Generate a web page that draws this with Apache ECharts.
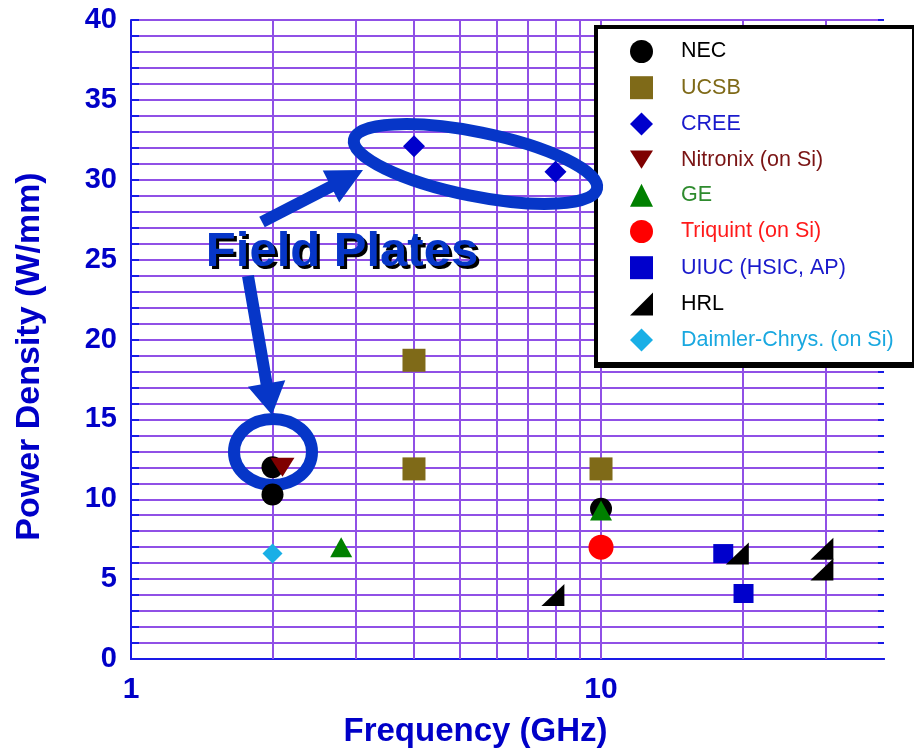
<!DOCTYPE html>
<html><head><meta charset="utf-8">
<script src="https://cdn.jsdelivr.net/npm/echarts@6/dist/echarts.min.js"></script>
<style>html,body{margin:0;padding:0;background:#fff}#c{width:914px;height:753px}</style>
</head><body><div id="c"></div>
<script>
// ---- data ----
const seriesNames = ['NEC', 'UCSB', 'CREE', 'Nitronix (on Si)', 'GE', 'Triquint (on Si)', 'UIUC (HSIC, AP)', 'HRL', 'Daimler-Chrys. (on Si)'];
const necFreq = [2, 2, 10];            const necPower = [12.0, 10.3, 9.4];
const ucsbFreq = [4, 4, 10];           const ucsbPower = [18.7, 11.9, 11.9];
const creeFreq = [4, 8];               const creePower = [32.1, 30.5];
const nitronixFreq = [2.1];            const nitronixPower = [12.0];
const geFreq = [2.8, 10];              const gePower = [7.0, 9.3];
const triquintFreq = [10];             const triquintPower = [7.0];
const uiucFreq = [18.2, 20.1];         const uiucPower = [6.6, 4.1];
const hrlFreq = [7.9, 19.5, 29.5, 29.5]; const hrlPower = [4.0, 6.6, 6.9, 5.6];
const daimlerFreq = [2];               const daimlerPower = [6.6];
const xTickLabels = [1, 10];
const gridFreqs = [2, 3, 4, 5, 6, 7, 8, 9, 10, 20, 30];

// ---- styles ----
const FONT = '"Liberation Sans", Arial, sans-serif';
const AXIS_BLUE = '#1a1ae6';
const LABEL_BLUE = '#0000c8';
const GRID = '#9050e6';
const ANN = '#0636c8';
const markerColors = ['#000000', '#7f6a18', '#0000cc', '#7f0000', '#008000', '#ff0000', '#0000cc', '#000000', '#19afe6'];
const legendTextColors = ['#000000', '#7f6a18', '#1a1acc', '#7a1414', '#2e8b2e', '#ff1a1a', '#1a1acc', '#000000', '#19a8e0'];
const symbols = ['circle', 'rect', 'diamond', 'path://M0,0 L10,0 L5,8 Z', 'triangle', 'circle', 'rect', 'path://M1,0 L1,1 L0,1 Z', 'diamond'];
const symbolSizes = [22, 23, 22, [24, 19], [22, 20], 25, [20, 19], [23, 22], 20];

const freqs = [necFreq, ucsbFreq, creeFreq, nitronixFreq, geFreq, triquintFreq, uiucFreq, hrlFreq, daimlerFreq];
const powers = [necPower, ucsbPower, creePower, nitronixPower, gePower, triquintPower, uiucPower, hrlPower, daimlerPower];

const chart = echarts.init(document.getElementById('c'), null, {renderer: 'canvas'});

function arrowPoints(tail, tip, shaftW, headLen, headW) {
  const dx = tip[0] - tail[0], dy = tip[1] - tail[1];
  const L = Math.hypot(dx, dy), ux = dx / L, uy = dy / L, nx = -uy, ny = ux;
  const bx = tip[0] - ux * headLen, by = tip[1] - uy * headLen;
  return [
    [tail[0] + nx * shaftW / 2, tail[1] + ny * shaftW / 2],
    [bx + nx * shaftW / 2, by + ny * shaftW / 2],
    [bx + nx * headW / 2, by + ny * headW / 2],
    tip,
    [bx - nx * headW / 2, by - ny * headW / 2],
    [bx - nx * shaftW / 2, by - ny * shaftW / 2],
    [tail[0] - nx * shaftW / 2, tail[1] - ny * shaftW / 2]
  ];
}

const series = seriesNames.map((name, i) => ({
  name: name,
  type: 'scatter',
  z: 2,
  symbol: symbols[i],
  symbolSize: symbolSizes[i],
  itemStyle: {color: markerColors[i], opacity: 1},
  emphasis: {disabled: true},
  data: freqs[i].map((f, k) => [f, powers[i][k]])
}));

series.unshift({
  name: '_grid',
  type: 'scatter',
  data: [],
  silent: true,
  markLine: {
    silent: true,
    z: 1,
    symbol: ['none', 'none'],
    label: {show: false},
    emphasis: {disabled: true},
    lineStyle: {color: GRID, width: 2, type: 'solid'},
    data: gridFreqs.map(f => ({xAxis: f}))
  }
});

const FP_FONT = 'bold 49px "Liberation Sans", Arial, sans-serif';

const option = {
  animation: false,
  backgroundColor: '#ffffff',
  grid: {left: 131, right: 30, top: 20, bottom: 90, containLabel: false},
  xAxis: [{
    type: 'log', logBase: 10, min: 1, max: 40, position: 'bottom',
    axisLine: {show: true, lineStyle: {color: AXIS_BLUE, width: 2}},
    axisTick: {show: false},
    splitLine: {show: false},
    axisLabel: {
      fontSize: 30, fontWeight: 'bold', color: LABEL_BLUE, fontFamily: FONT, margin: 16,
      formatter: v => xTickLabels.includes(Math.round(v)) && Math.abs(v - Math.round(v)) < 1e-6 ? String(Math.round(v)) : ''
    },
    name: 'Frequency (GHz)', nameLocation: 'middle', nameGap: 56,
    nameTextStyle: {fontSize: 33, fontWeight: 'bold', color: LABEL_BLUE, fontFamily: FONT, padding: [0, 64, 0, 0]}
  }, {
    type: 'log', logBase: 10, min: 1, max: 40, position: 'top',
    axisLine: {show: true, lineStyle: {color: AXIS_BLUE, width: 2}},
    axisTick: {show: false}, axisLabel: {show: false}, splitLine: {show: false}
  }],
  yAxis: [{
    type: 'value', min: 0, max: 40, interval: 5, position: 'left',
    axisLine: {show: true, lineStyle: {color: AXIS_BLUE, width: 2}},
    axisTick: {show: true, inside: true, length: 8, lineStyle: {color: AXIS_BLUE, width: 2}},
    minorTick: {show: true, splitNumber: 5, length: 8, lineStyle: {color: AXIS_BLUE, width: 2}},
    splitLine: {show: true, lineStyle: {color: GRID, width: 2}},
    minorSplitLine: {show: true, lineStyle: {color: GRID, width: 2}},
    axisLabel: {fontSize: 29, fontWeight: 'bold', color: LABEL_BLUE, fontFamily: FONT, margin: 14},
    name: 'Power Density (W/mm)', nameLocation: 'middle', nameRotate: 90, nameGap: 84,
    nameTextStyle: {fontSize: 34, fontWeight: 'bold', color: LABEL_BLUE, fontFamily: FONT, padding: [0, 34, 0, 0]}
  }, {
    type: 'value', min: 0, max: 40, interval: 5, position: 'right',
    axisLine: {show: false},
    axisTick: {show: true, inside: true, length: 6, lineStyle: {color: AXIS_BLUE, width: 2}},
    minorTick: {show: true, splitNumber: 5, length: 6, lineStyle: {color: AXIS_BLUE, width: 2}},
    axisLabel: {show: false}, splitLine: {show: false}
  }],
  legend: {
    orient: 'vertical', left: 630, top: 40, padding: 0,
    itemWidth: 23, itemHeight: 23, itemGap: 13.2,
    selectedMode: false, z: 10,
    textStyle: {fontSize: 21.5, fontFamily: FONT, padding: [0, 0, 0, 23]},
    data: seriesNames.map((n, i) => ({name: n, textStyle: {color: legendTextColors[i]}}))
  },
  graphic: [
    {type: 'rect', z: 8, shape: {x: 596, y: 27, width: 318, height: 337}, style: {fill: '#ffffff', stroke: '#000000', lineWidth: 4}},
    {type: 'rect', z: 8, shape: {x: 594, y: 362, width: 320, height: 6}, style: {fill: '#000000'}},
    {type: 'ellipse', z: 12, x: 475.5, y: 164, rotation: -0.2, shape: {cx: 0, cy: 0, rx: 124, ry: 32}, style: {fill: 'none', stroke: ANN, lineWidth: 12}},
    {type: 'ellipse', z: 1.5, x: 273, y: 452, shape: {cx: 0, cy: 0, rx: 39, ry: 33}, style: {fill: 'none', stroke: ANN, lineWidth: 12}},
    {type: 'polygon', z: 1.5, shape: {points: arrowPoints([262, 222], [363, 170], 12, 36, 36)}, style: {fill: ANN}},
    {type: 'polygon', z: 1.5, shape: {points: arrowPoints([248, 276], [272, 415], 12, 32, 38)}, style: {fill: ANN}},
    {type: 'text', z: 1.55, x: 345, y: 255, style: {
      text: 'Field Plates', font: FP_FONT, fill: '#000000', align: 'center', verticalAlign: 'middle'
    }},
    {type: 'text', z: 1.6, x: 342, y: 252, style: {
      text: 'Field Plates', font: FP_FONT, fill: ANN, align: 'center', verticalAlign: 'middle'
    }}
  ],
  series: series
};
chart.setOption(option);
</script>
</body></html>
